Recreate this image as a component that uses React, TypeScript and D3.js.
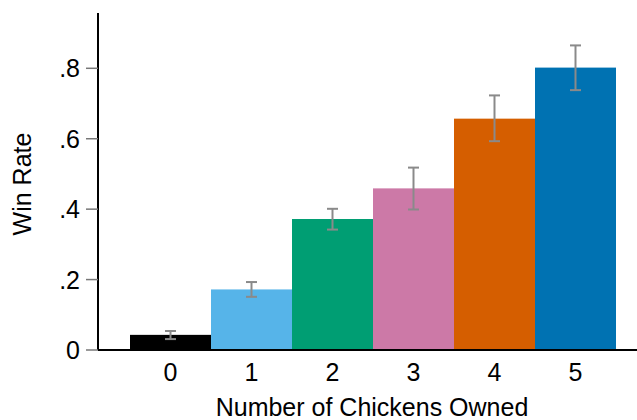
import React from "react";
import * as d3 from "d3";

const categories = ["0", "1", "2", "3", "4", "5"];
const winRate = [0.043, 0.172, 0.372, 0.459, 0.657, 0.802];
const errLow = [0.031, 0.151, 0.342, 0.399, 0.593, 0.738];
const errHigh = [0.054, 0.193, 0.401, 0.518, 0.723, 0.865];
const colors = ["#000000", "#56B4E9", "#009E73", "#CC79A7", "#D55E00", "#0072B2"];
const yTicks = [0, 0.2, 0.4, 0.6, 0.8];
const yTickLabels = ["0", ".2", ".4", ".6", ".8"];

const W = 637;
const H = 420;
const font = "'Liberation Sans', Arial, Helvetica, sans-serif";

export default function App() {
  const x0 = 98;
  const baseY = 350;
  const y = d3.scaleLinear().domain([0, 0.8]).range([baseY, 68.3]);
  const x = d3
    .scaleBand<string>()
    .domain(categories)
    .range([130, 616])
    .paddingInner(0)
    .paddingOuter(0);
  const capW = 11;

  return (
    <svg
      width={W}
      height={H}
      style={{ position: "absolute", left: 0, top: 0, background: "#fff" }}
    >
      {categories.map((c, i) => (
        <rect
          key={c}
          x={x(c)}
          y={y(winRate[i])}
          width={x.bandwidth()}
          height={baseY - y(winRate[i])}
          fill={colors[i]}
        />
      ))}
      {categories.map((c, i) => {
        const cx = (x(c) as number) + x.bandwidth() / 2;
        return (
          <g key={"e" + c} stroke="#8a8a8a" strokeWidth={2}>
            <line x1={cx} x2={cx} y1={y(errLow[i])} y2={y(errHigh[i])} />
            <line x1={cx - capW / 2} x2={cx + capW / 2} y1={y(errLow[i])} y2={y(errLow[i])} />
            <line x1={cx - capW / 2} x2={cx + capW / 2} y1={y(errHigh[i])} y2={y(errHigh[i])} />
          </g>
        );
      })}
      {/* axes */}
      <line x1={x0} x2={x0} y1={13} y2={baseY} stroke="#000" strokeWidth={2} />
      <line x1={x0} x2={W} y1={baseY} y2={baseY} stroke="#000" strokeWidth={2} />
      {yTicks.map((t, i) => (
        <g key={"t" + i}>
          <line x1={86} x2={x0} y1={y(t)} y2={y(t)} stroke="#777" strokeWidth={1.5} />
          <text
            x={80}
            y={y(t)}
            dy="0.36em"
            textAnchor="end"
            fontFamily={font}
            fontSize={25}
            fill="#000"
          >
            {yTickLabels[i]}
          </text>
        </g>
      ))}
      {categories.map((c) => (
        <text
          key={"xl" + c}
          x={(x(c) as number) + x.bandwidth() / 2}
          y={381}
          textAnchor="middle"
          fontFamily={font}
          fontSize={25}
          fill="#000"
        >
          {c}
        </text>
      ))}
      <text
        x={(130 + 616) / 2 - 1}
        y={416}
        textAnchor="middle"
        fontFamily={font}
        fontSize={25}
        fill="#000"
      >
        Number of Chickens Owned
      </text>
      <text
        transform={`translate(31,184) rotate(-90)`}
        textAnchor="middle"
        fontFamily={font}
        fontSize={25}
        fill="#000"
      >
        Win Rate
      </text>
    </svg>
  );
}
